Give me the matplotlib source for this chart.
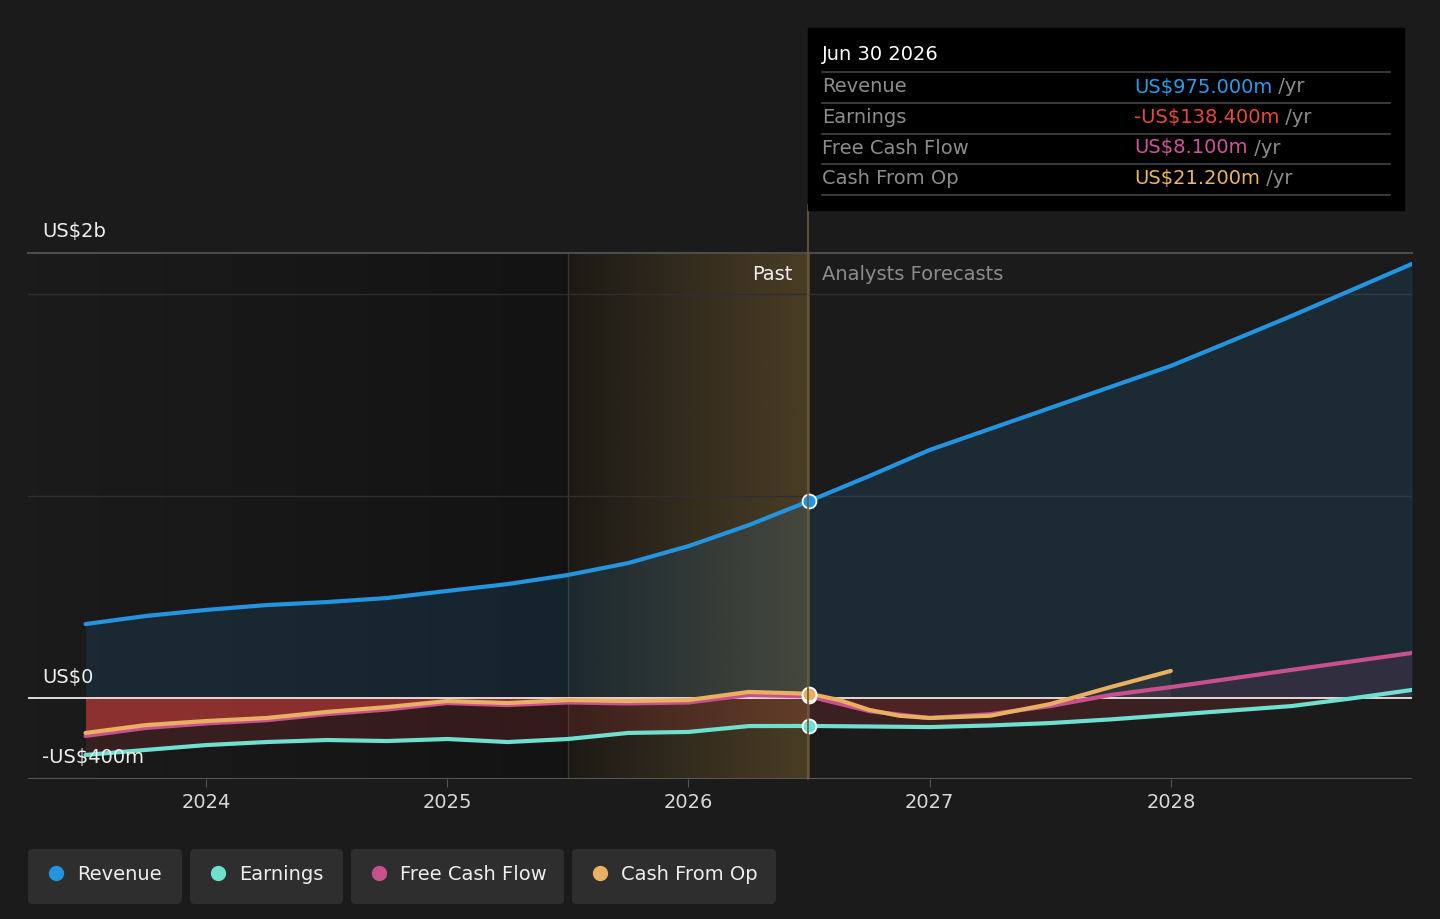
import numpy as np
import matplotlib
matplotlib.use("Agg")
import matplotlib.pyplot as plt
from matplotlib.patches import FancyBboxPatch, Rectangle

# values in US$ millions
t_hist = [2023.5, 2023.75, 2024.0, 2024.25, 2024.5, 2024.75, 2025.0, 2025.25,
          2025.5, 2025.75, 2026.0, 2026.25, 2026.5]
t_fc = [2026.5, 2026.75, 2027.0, 2027.25, 2027.5, 2027.75, 2028.0, 2028.25,
        2028.5, 2028.75, 2029.0]

revenue_hist = [366, 406, 436, 460, 475, 495, 530, 564, 609, 668, 752, 856, 975]
revenue_fc = [975, 1099, 1228, 1332, 1436, 1540, 1644, 1767, 1891, 2020, 2149]

earnings_hist = [-282, -257, -233, -218, -208, -213, -203, -218, -203, -173, -168, -139, -138.4]
earnings_fc = [-138.4, -141, -144, -136, -124, -106, -84, -62, -40, -2, 40]

fcf_hist = [-188, -148, -126, -110, -80, -57, -25, -35, -22, -27, -22, 15, 8.1]
fcf_fc_t = [2026.5, 2026.75, 2027.0, 2027.25, 2027.5, 2027.75, 2028.0, 2028.5, 2029.0]
fcf_fc = [8.1, -65, -99, -80, -40, 15, 54, 139, 223]

cfo_hist = [-173, -134, -114, -99, -69, -45, -15, -25, -10, -15, -10, 30, 21.2]
cfo_fc_t = [2026.5, 2026.625, 2026.75, 2026.875, 2027.0, 2027.25, 2027.5, 2027.75, 2028.0]
cfo_fc = [21.2, -10, -59, -88, -99, -88, -30, 54, 134]

year_ticks = [2024, 2025, 2026, 2027, 2028]

C_REV = "#2394df"
C_EARN = "#6ee0d0"
C_FCF = "#c9508f"
C_CFO = "#e8b060"
C_NEG = "#e04040"
BG = "#1b1b1b"
FS = 14

W, H = 1440, 919
fig = plt.figure(figsize=(W / 100, H / 100), dpi=100, facecolor=BG)

# main plot axes, placed in pixel terms
L, R, T, B = 28, 1412, 253, 779
X0, X1, Y0, Y1 = 2023.2614, 2029.0, -401, 2203
ax = fig.add_axes([L / W, 1 - B / H, (R - L) / W, (B - T) / H])
ax.set_facecolor(BG)
ax.set_xlim(X0, X1)
ax.set_ylim(Y0, Y1)
for s in ax.spines.values():
    s.set_visible(False)
ax.set_yticks([])
ax.set_xticks(year_ticks)
ax.set_xticklabels([str(y) for y in year_ticks], color="#d8d8d8", fontsize=FS)
ax.tick_params(axis="x", length=6, color="#555555", pad=4)

# past area: darkening towards the cursor, gold glow for last year
shade = np.zeros((2, 256, 4))
shade[..., 3] = np.linspace(0.0, 0.3, 256)[None, :]
ax.imshow(shade, extent=[X0, 2025.5, Y0, Y1], aspect="auto", zorder=0.4,
          interpolation="bilinear")
ax.axvspan(2025.5, 2026.5, color="#000000", alpha=0.3, zorder=0.4, lw=0)
grad = np.zeros((2, 256, 4))
grad[..., 0] = 230 / 255
grad[..., 1] = 180 / 255
grad[..., 2] = 90 / 255
grad[..., 3] = np.linspace(0.05, 0.27, 256)[None, :]
ax.imshow(grad, extent=[2025.5, 2026.5, Y0, Y1], aspect="auto", zorder=0.5,
          interpolation="bilinear")
ax.axvline(2025.5, color="#3a3530", lw=1, zorder=1)

# grid
for g in [1000, 2000]:
    ax.axhline(g, color="#2f2f2f", lw=1, zorder=1)
ax.axhline(Y0, color="#555555", lw=1.5, zorder=1)

t_all = t_hist + t_fc[1:]
rev_all = revenue_hist + revenue_fc[1:]
earn_all = earnings_hist + earnings_fc[1:]

# fills
ax.fill_between(t_all, 0, rev_all, color=C_REV, alpha=0.13, lw=0, zorder=2)
e = np.array(earn_all)
ax.fill_between(t_all, 0, e, where=e <= 0, interpolate=True, color=C_NEG, alpha=0.16, lw=0, zorder=2)
ax.fill_between(t_hist, 0, fcf_hist, color=C_NEG, alpha=0.5, lw=0, zorder=2)
f = np.array(fcf_fc)
ax.fill_between(fcf_fc_t, 0, f, where=f >= 0, interpolate=True, color=C_FCF, alpha=0.12, lw=0, zorder=2)
ax.fill_between(fcf_fc_t, 0, f, where=f <= 0, interpolate=True, color=C_NEG, alpha=0.12, lw=0, zorder=2)
ax.fill_between(cfo_fc_t, 0, cfo_fc, where=np.array(cfo_fc) >= 0, interpolate=True,
                color="#888866", alpha=0.12, lw=0, zorder=2)

# zero line
ax.axhline(0, color="#f0e6e6", lw=1.3, zorder=3)

# lines
ax.plot(t_all, earn_all, color=C_EARN, lw=3, zorder=4, solid_capstyle="round")
ax.plot(t_hist + fcf_fc_t[1:], fcf_hist + fcf_fc[1:], color=C_FCF, lw=3, zorder=5,
        solid_capstyle="round")
ax.plot(t_hist + cfo_fc_t[1:], cfo_hist + cfo_fc[1:], color=C_CFO, lw=3, zorder=6,
        solid_capstyle="round")
ax.plot(t_all, rev_all, color=C_REV, lw=3, zorder=7, solid_capstyle="round")

# markers at the cursor date
for val, col in [(revenue_hist[-1], C_REV), (earnings_hist[-1], C_EARN),
                 (fcf_hist[-1], C_FCF), (cfo_hist[-1], C_CFO)]:
    ax.plot([2026.5], [val], "o", ms=10, mfc=col, mec="white", mew=1.3, zorder=9)

# overlay in pixel coordinates
ov = fig.add_axes([0, 0, 1, 1], facecolor="none")
ov.set_xlim(0, W)
ov.set_ylim(H, 0)
ov.axis("off")

ov.plot([L, R], [T, T], color="#4c4c4c", lw=1.5)
ov.plot([808, 808], [205, B], color="#6e5c38", lw=1.2)

ov.text(42, 232, "US$2b", color="#eeeeee", fontsize=FS, va="center")
ov.text(42, 677, "US$0", color="#eeeeee", fontsize=FS, va="center")
ov.text(42, 758, "-US$400m", color="#eeeeee", fontsize=FS, va="center", zorder=10)
ov.text(793, 274, "Past", color="#eeeeee", fontsize=FS, va="center", ha="right")
ov.text(822, 274, "Analysts Forecasts", color="#8c8c8c", fontsize=FS, va="center")

# tooltip
ov.add_patch(Rectangle((808, 28), 596, 182, color="#000000", zorder=11))
ov.text(822, 55, "Jun 30 2026", color="#ffffff", fontsize=FS, va="center", zorder=12)
for yl in [72, 103, 134, 164, 195]:
    ov.plot([822, 1390], [yl, yl], color="#444444", lw=1.2, zorder=12)
rows = [("Revenue", "US$975.000m", "#2e9be6"),
        ("Earnings", "-US$138.400m", "#e64a3c"),
        ("Free Cash Flow", "US$8.100m", "#d0559a"),
        ("Cash From Op", "US$21.200m", "#ebb560")]
for i, (lab, val, col) in enumerate(rows):
    yc = 87 + i * 30.5
    ov.text(822, yc, lab, color="#8c8c8c", fontsize=FS, va="center", zorder=12)
    tv = ov.text(1134, yc, val, color=col, fontsize=FS, va="center", zorder=12)
    ov.annotate(" /yr", xy=(1, 0), xycoords=tv, va="bottom", ha="left",
                color="#8c8c8c", fontsize=FS, zorder=12)

# legend chips
chips = [("Revenue", C_REV, 28, 182), ("Earnings", C_EARN, 190, 343),
         ("Free Cash Flow", C_FCF, 351, 564), ("Cash From Op", C_CFO, 572, 776)]
for lab, col, x0, x1 in chips:
    ov.add_patch(FancyBboxPatch((x0 + 5, 854), x1 - x0 - 10, 45,
                                boxstyle="round,pad=5", fc="#2e2e2e", ec="none"))
    ov.plot([x0 + 28], [873], "o", ms=10, color=col)
    ov.text(x0 + 49, 874, lab, color="#eeeeee", fontsize=FS, va="center")

fig.savefig("out.png", dpi=100, facecolor=BG)
